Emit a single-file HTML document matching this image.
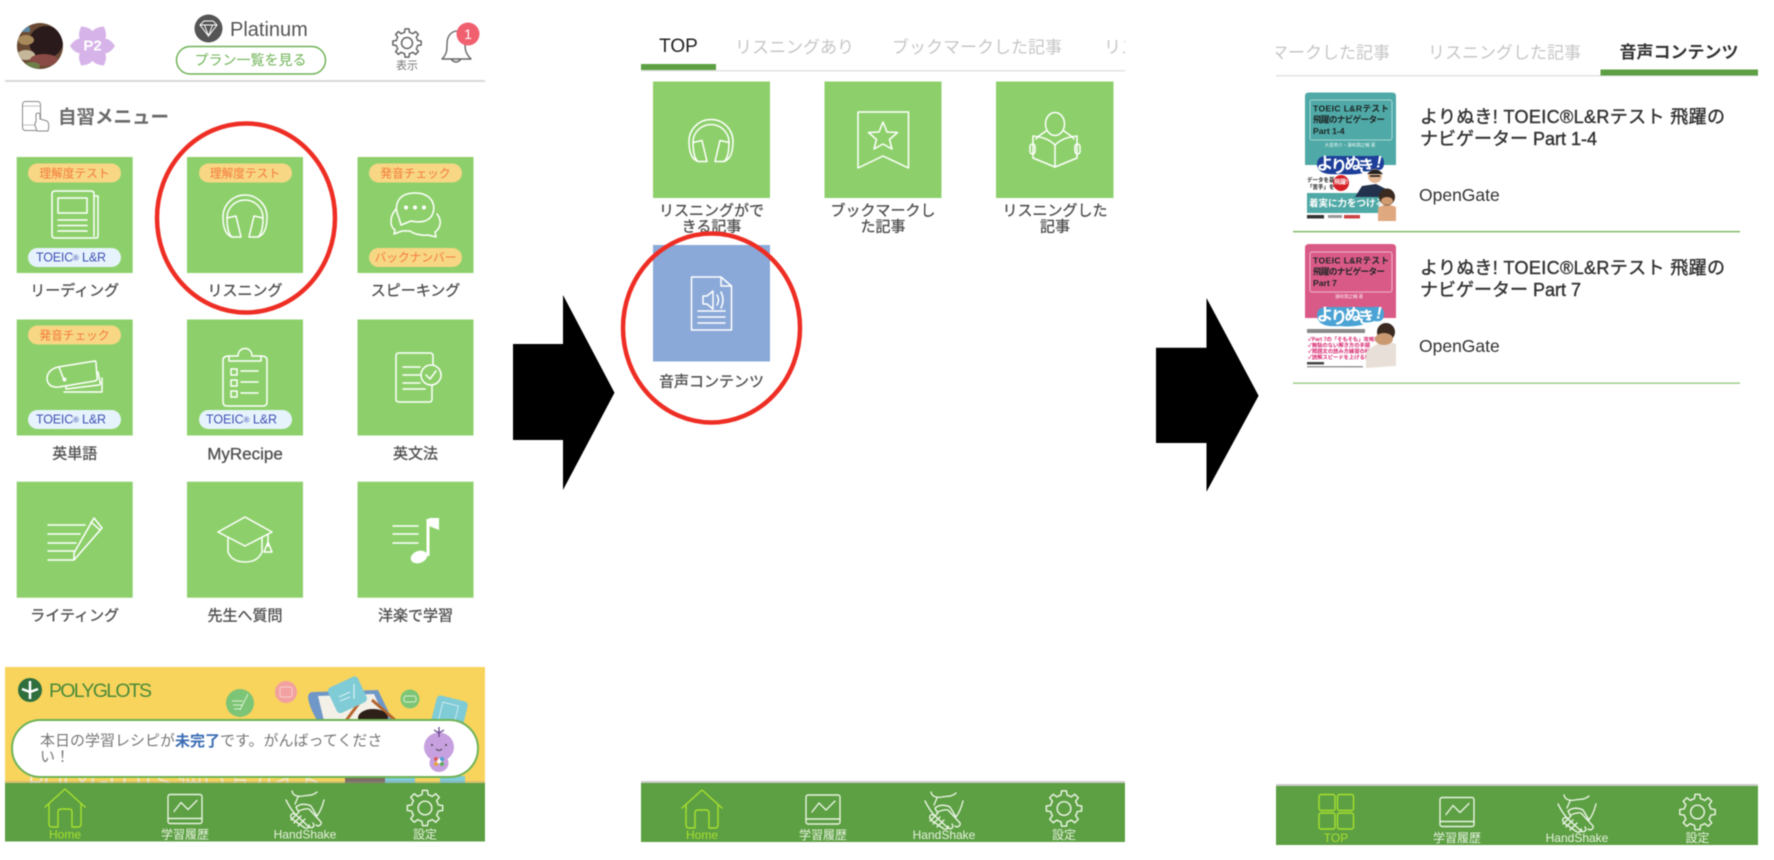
<!DOCTYPE html>
<html lang="ja"><head><meta charset="utf-8"><title>Diagram</title>
<style>
html,body{margin:0;padding:0;background:#fff;width:1774px;height:860px;overflow:hidden}
svg{display:block;filter:blur(.4px)}
text{font-family:"Liberation Sans","Noto Sans CJK JP",sans-serif;dominant-baseline:central}
.m{text-anchor:middle}
.lab{font-size:15px;fill:#4f4f4f;text-anchor:middle;stroke:#4f4f4f;stroke-width:.3px}
.o{font-size:11.7px;fill:#f5793a;text-anchor:middle}
.b{font-size:12.5px;fill:#4050b5}
.tb{font-size:12px;fill:#e6f2df;text-anchor:middle}
.on{fill:#a6e02e}
.g{font-size:17px;fill:#c6c6c6}
.t{fill:#8dd06b}
.i{fill:none;stroke:#fff;stroke-width:1.5;stroke-linejoin:round;stroke-linecap:round}
.ti{font-size:18px;fill:#333;stroke:#333;stroke-width:.4px}
.og{font-size:17.5px;fill:#333}
.r{fill:none;stroke:#ee2e24;stroke-width:4.5}
.bk{font-size:8.6px;font-weight:700;fill:#1c2424}
</style></head><body>
<svg width="1774" height="860" viewBox="0 0 1774 860" xmlns="http://www.w3.org/2000/svg">
<defs>
<clipPath id="c2"><rect x="641" y="30" width="484" height="45"/></clipPath>
<clipPath id="c3"><rect x="1276" y="30" width="482" height="50"/></clipPath>
<clipPath id="cb"><rect x="5" y="667" width="480" height="116"/></clipPath>
<clipPath id="av"><circle cx="40" cy="46" r="23"/></clipPath>
<clipPath id="bk1"><rect x="1305" y="92.500" width="91" height="128.500"/></clipPath>
<clipPath id="bk2"><rect x="1305" y="244" width="91" height="124"/></clipPath>
<g id="tooth"><path d="M-4.97 -12L-2.92 -12.67L-2.37 -16.83L2.37 -16.83L2.92 -12.67L4.97 -12"/></g>
<g id="gear">
<use href="#tooth"/><use href="#tooth" transform="rotate(45)"/><use href="#tooth" transform="rotate(90)"/><use href="#tooth" transform="rotate(135)"/><use href="#tooth" transform="rotate(180)"/><use href="#tooth" transform="rotate(225)"/><use href="#tooth" transform="rotate(270)"/><use href="#tooth" transform="rotate(315)"/>
<circle r="6.5"/></g>
<g id="phones"><path d="M10 45C4 43 1 36 1 25A22 22 0 0 1 45 25C45 36 42 43 36 45"/><path d="M5 26A18 18 0 0 1 41 26"/><path d="M5 26L14 24L19 45H10C7 43 5 36 5 26Z"/><path d="M41 26L32 24L27 45H36C39 43 41 36 41 26Z"/></g>
<g id="home"><path d="M-20 16L0 -2L20 16"/><path d="M-16 13V33Q-16 36 -13 36H-7V21Q-7 18 -4 18H4Q7 18 7 21V36H13Q16 36 16 33V13"/></g>
<g id="chart"><rect x="-17" y="0" width="34" height="29" rx="2"/><path d="M-17 24H17"/><path d="M-11 17L-4 8L3 15L12 6"/></g>
<g id="hands"><path d="M-19 -8C-16 -2 -13 3 -9 7L4 19C8 21 10 18 8 15M-9 7C-13 4 -16 7 -13 11L0 20C4 21 5 18 4 17"/><path d="M-14 12L-6 4M-11 15L-4 8M-7 18L0 11"/><path d="M19 -8C17 0 15 4 12 8L6 -2C2 -4 -4 -5 -9 -1L-7 3C-3 2 0 0 4 1L16 14C17 17 13 19 11 17"/><path d="M-13 -17C-12 -12 -7 -11 -2 -12C3 -13 8 -12 12 -16M-7 -11L-10 -4"/></g>
<path id="petal" d="M0 0C-10 -7 -10 -16 0 -22.500C10 -16 10 -7 0 0Z" fill="#d6b3e8"/>
</defs>
<rect width="1774" height="860" fill="#fff"/>

<!-- PANEL 1 -->
<circle cx="40" cy="46" r="23" fill="#6a4a34"/>
<g clip-path="url(#av)"><ellipse cx="46" cy="42" rx="17" ry="16" fill="#2a1a1c"/><ellipse cx="26" cy="40" rx="8" ry="5" fill="#a88a5a"/><ellipse cx="26" cy="55" rx="9" ry="5" fill="#c4b79a"/><ellipse cx="44" cy="60" rx="14" ry="6" fill="#8a4a45"/><ellipse cx="32" cy="66" rx="8" ry="4" fill="#6d7f48"/><rect x="21" y="27" width="9" height="5" fill="#5a86a0"/></g>
<g transform="translate(92.500 46)"><use href="#petal" transform="rotate(30)"/><use href="#petal" transform="rotate(90)"/><use href="#petal" transform="rotate(150)"/><use href="#petal" transform="rotate(210)"/><use href="#petal" transform="rotate(270)"/><use href="#petal" transform="rotate(330)"/></g>
<text x="92.500" y="46" class="m" font-size="15" font-weight="700" fill="#fff">P2</text>
<circle cx="208.500" cy="28.500" r="14" fill="#555"/>
<path d="M200 25L204 21H213L217 25L208.500 36ZM200 25H217M204.500 25L208.500 36L212.500 25" fill="none" stroke="#fff" stroke-width="1"/>
<text x="230" y="30" font-size="20" fill="#555">Platinum</text>
<rect x="176.500" y="46.500" width="149" height="27.500" rx="13.700" fill="#fff" stroke="#6fb356" stroke-width="1.500"/>
<text x="250.500" y="60" class="m" font-size="14" fill="#6fb356">プラン一覧を見る</text>
<g transform="translate(407 43) scale(.84)" fill="none" stroke="#666" stroke-width="1.800" stroke-linejoin="round"><use href="#gear"/></g>
<text x="407" y="66" class="m" font-size="11" fill="#777">表示</text>
<path d="M442 59C447 54 447 50 447 44C447 36 451 32 456 31C461 32 465 36 465 44C465 50 466 54 471 59ZM451 59Q456 65 461 59" fill="none" stroke="#666" stroke-width="1.400" stroke-linejoin="round"/>
<circle cx="468" cy="34" r="11.500" fill="#f0606f"/>
<text x="468" y="34" class="m" font-size="14" fill="#fff">1</text>
<rect x="5" y="80" width="480" height="2" fill="#d9d9d9"/>

<rect x="22.500" y="101.500" width="18" height="29" rx="3" fill="#fff" stroke="#888" stroke-width="1"/>
<path d="M23 106H40M23 125H40" stroke="#aaa" stroke-width=".8"/>
<path d="M37 131C35 126 34 123 36 122V114Q38 112 40 114V119L47 121Q50 124 48 131Z" fill="#fff" stroke="#888" stroke-width="1"/>
<text x="58" y="117" font-size="18.500" font-weight="700" fill="#6a6a6a">自習メニュー</text>

<!-- tiles -->
<g class="t">
<rect x="16.700" y="157" width="116" height="116"/><rect x="187" y="157" width="116" height="116"/><rect x="357.500" y="157" width="116" height="116"/>
<rect x="16.700" y="319.500" width="116" height="116"/><rect x="187" y="319.500" width="116" height="116"/><rect x="357.500" y="319.500" width="116" height="116"/>
<rect x="16.700" y="481.700" width="116" height="116"/><rect x="187" y="481.700" width="116" height="116"/><rect x="357.500" y="481.700" width="116" height="116"/>
</g>
<g fill="#f7d684">
<rect x="28" y="163.500" width="93" height="19" rx="9.500"/><rect x="199" y="163.500" width="93" height="19" rx="9.500"/><rect x="369" y="163.500" width="93" height="19" rx="9.500"/>
<rect x="369" y="248" width="93" height="19" rx="9.500"/><rect x="28" y="325.500" width="93" height="19" rx="9.500"/>
</g>
<g fill="#e6f3fc"><rect x="28" y="248" width="93" height="19" rx="9.500"/><rect x="28" y="410" width="93" height="19" rx="9.500"/><rect x="199" y="410" width="93" height="19" rx="9.500"/></g>
<text x="74.500" y="174" class="o">理解度テスト</text><text x="245" y="174" class="o">理解度テスト</text><text x="415.500" y="174" class="o">発音チェック</text>
<text x="415.500" y="258" class="o">バックナンバー</text><text x="74.500" y="336" class="o">発音チェック</text>
<text x="36" y="257.500" class="b" textLength="70">TOEIC<tspan font-size="8">®</tspan> L&amp;R</text><text x="36" y="419.500" class="b" textLength="70">TOEIC<tspan font-size="8">®</tspan> L&amp;R</text><text x="206" y="419.500" class="b" textLength="71">TOEIC<tspan font-size="8">®</tspan> L&amp;R</text>

<!-- tile icons p1 -->
<g class="i">
<path d="M94 196H98V236Q98 238 96 238H55Q52 238 52 235V194Q52 191 55 191H91Q94 191 94 194V236"/><rect x="58" y="198" width="29" height="15"/><path d="M58 220H87M58 225.500H87M58 231H87"/>
<use href="#phones" transform="translate(222 192)"/>
<path d="M399 218C393 205 398 193 415 193C430 193 436 203 433 213C430 222 420 223 411 221L401 225Z"/><circle cx="406" cy="207.500" r="1.300" fill="#fff"/><circle cx="415" cy="207.500" r="1.300" fill="#fff"/><circle cx="424" cy="207.500" r="1.300" fill="#fff"/>
<path d="M396 209C390 216 389 226 395 230L394 234L402 231H410C412 233 420 236 428 235L436 237L435 232C441 228 442 220 437 214"/>
<path d="M95 361L58 367Q47 370 47 379Q48 388 59 387L95 381Q98 380 97 377L96 363Q96 361 95 361ZM59 367L64 380"/><circle cx="64.500" cy="379.500" r="1.200" fill="#fff"/><path d="M66 387V389L99 385Q101 384 100 382L98 372M64 392H102V378"/>
<path d="M229 356H238C238 346 252 346 252 356H261Q267 356 267 360V402Q267 406 263 406H227Q223 406 223 402V360Q223 356 229 356ZM229 356V361H261V356"/><rect x="231" y="369" width="6" height="6"/><rect x="231" y="380" width="6" height="6"/><rect x="231" y="391" width="6" height="6"/><path d="M241 371H258M241 382H258M241 393H258"/>
<path d="M433 365V356Q433 353 430 353H399Q396 353 396 356V399Q396 402 399 402H429Q432 402 432 399V385"/><circle cx="431" cy="375" r="10"/><path d="M426 375L430 379L436 371M403 367H420M403 375H420M403 383H420M403 389H425"/>
<path d="M48 525H85M48 534H80M48 543H76M48 551H74M48 560H74L102 528L94 518L74 553V560"/><path d="M91 522L100 530"/>
<path d="M245 517L272 532L245 546L218 532ZM228 538V552Q232 562 245 562Q258 562 262 552V538"/><path d="M268 534V546M264 552L268 542L272 552Z"/>
<path d="M393 526H418M393 534H418M393 543H418"/>
</g>
<path d="M428 519V556" stroke="#fff" stroke-width="3"/><ellipse cx="419" cy="557" rx="8.500" ry="6" fill="#fff" transform="rotate(-20 419 557)"/><path d="M429 518H439V530L429 526Z" fill="#fff"/>

<text x="74.700" y="291" class="lab">リーディング</text><text x="245" y="291" class="lab">リスニング</text><text x="415.500" y="291" class="lab">スピーキング</text>
<text x="74.700" y="454" class="lab">英単語</text><text x="245" y="454" class="lab" style="font-size:17px">MyRecipe</text><text x="415.500" y="454" class="lab">英文法</text>
<text x="74.700" y="616" class="lab">ライティング</text><text x="245" y="616" class="lab">先生へ質問</text><text x="415.500" y="616" class="lab">洋楽で学習</text>

<!-- banner -->
<rect x="5" y="667" width="480" height="116" fill="#f8d45c"/>
<circle cx="30" cy="690" r="12" fill="#2f6f3e"/>
<path d="M30 681V699M22 689L30 692L38 689" stroke="#fff" stroke-width="2.500" fill="none"/>
<text x="49" y="691" font-size="19.500" fill="#4a8a38" textLength="103">POLYGLOTS</text>
<circle cx="240" cy="703" r="14" fill="#7cc576"/><path d="M232 701H243M233 705H243M234 709H241M248 694L240 710" stroke="#d8f0d0" stroke-width="1" fill="none"/>
<circle cx="286" cy="692" r="11" fill="#f2a0a0"/><rect x="280" y="687" width="12" height="10" rx="2" fill="none" stroke="#f8d0c8" stroke-width="1"/>
<circle cx="410" cy="699" r="9.500" fill="#7cc576"/><rect x="404" y="696" width="12" height="6" rx="2" fill="none" stroke="#d8f0d0" stroke-width="1"/>
<rect x="433" y="698" width="32" height="34" rx="4" fill="#7fcbd6" transform="rotate(14 449 715)"/>
<rect x="440" y="704" width="16" height="18" fill="none" stroke="#cdeaf0" stroke-width="1" transform="rotate(14 449 715)"/>
<path d="M313 692L378 690L395 725L320 725Q310 710 308 698Q308 692 313 692Z" fill="#6f97c8"/>
<path d="M318 696L374 694L388 725H325Z" fill="#f3f0e8"/>
<path d="M365 695L345 722M372 700L395 720" stroke="#b5672f" stroke-width="3" fill="none"/>
<ellipse cx="373" cy="718" rx="15" ry="9" fill="#2d2018"/>
<rect x="331" y="681" width="33" height="28" rx="4" fill="#7fcbd6" transform="rotate(-25 347 695)"/>
<path d="M339 697L350 692M340 701L350 697M354 684V699" stroke="#d8f0f4" stroke-width="1.200" fill="none"/>
<g clip-path="url(#cb)"><text x="28" y="782" font-size="24" fill="#f7e9c0">POLYGLOTS 使い方ガイド</text>
<rect x="345" y="776" width="70" height="8" fill="#7d6b60"/><rect x="385" y="776" width="30" height="8" fill="#7fcbd6"/><rect x="440" y="776" width="25" height="8" fill="#7fcbd6"/></g>
<rect x="12" y="720" width="466" height="57" rx="28.500" fill="#fff" stroke="#6fb356" stroke-width="2"/>
<text x="40" y="741" font-size="15" fill="#777">本日の学習レシピが<tspan fill="#3b6db5" font-weight="700">未完了</tspan>です。がんばってくださ</text>
<text x="40" y="757" font-size="15" fill="#777">い！</text>
<ellipse cx="439" cy="747" rx="15" ry="14.500" fill="#c7a0e0"/><ellipse cx="439" cy="763" rx="9.500" ry="9" fill="#c7a0e0"/>
<path d="M439 727V737M434 730L439 733L444 730" stroke="#6a4a90" stroke-width="1.300" fill="none"/>
<circle cx="439" cy="761" r="2.500" fill="#fff"/><circle cx="436" cy="759" r="2" fill="#e05a5a"/><circle cx="442" cy="759" r="2" fill="#4aa3d4"/><circle cx="436" cy="764" r="2" fill="#e8a33a"/><circle cx="442" cy="764" r="2" fill="#5ab05a"/>
<circle cx="432" cy="745" r="1" fill="#444"/><circle cx="446" cy="745" r="1" fill="#444"/><path d="M436 749Q439 752 442 749" stroke="#444" fill="none"/>

<!-- tab bars -->
<rect x="5" y="781" width="480" height="2" fill="#999" opacity=".35"/>
<rect x="5" y="783" width="480" height="58.500" fill="#5d9f43"/>
<rect x="641" y="781" width="484" height="2" fill="#999" opacity=".5"/>
<rect x="641" y="783" width="484" height="59" fill="#5d9f43"/>
<rect x="1276" y="784" width="482" height="2" fill="#999" opacity=".5"/>
<rect x="1276" y="786" width="482" height="59" fill="#5d9f43"/>
<g fill="none" stroke="#e8f3e2" stroke-width="1.400" stroke-linejoin="round" stroke-linecap="round">
<use href="#home" transform="translate(65 791)" stroke="#a6e02e"/>
<use href="#chart" transform="translate(185 794.500)"/>
<use href="#hands" transform="translate(305 808)"/>
<use href="#gear" transform="translate(425 808) scale(1.050)"/>
<use href="#home" transform="translate(702 792)" stroke="#a6e02e"/>
<use href="#chart" transform="translate(823 795)"/>
<use href="#hands" transform="translate(944 809)"/>
<use href="#gear" transform="translate(1064 808.500) scale(1.050)"/>
<g stroke="#a6e02e"><rect x="1319" y="794.500" width="16" height="16" rx="2"/><rect x="1337.500" y="794.500" width="16" height="16" rx="2"/><rect x="1319" y="813" width="16" height="16" rx="2"/><rect x="1337.500" y="813" width="16" height="16" rx="2"/></g>
<use href="#chart" transform="translate(1457 797.500)"/>
<use href="#hands" transform="translate(1577 812)"/>
<use href="#gear" transform="translate(1697.500 812) scale(1.050)"/>
</g>
<text x="65" y="834.500" class="tb on">Home</text><text x="185" y="834.500" class="tb">学習履歴</text><text x="305" y="834.500" class="tb">HandShake</text><text x="425" y="834.500" class="tb">設定</text>
<text x="702" y="835" class="tb on">Home</text><text x="823" y="835" class="tb">学習履歴</text><text x="944" y="835" class="tb">HandShake</text><text x="1064" y="835" class="tb">設定</text>
<text x="1336" y="838" class="tb on">TOP</text><text x="1457" y="838" class="tb">学習履歴</text><text x="1577" y="838" class="tb">HandShake</text><text x="1697.500" y="838" class="tb">設定</text>

<ellipse cx="246" cy="218" rx="89" ry="94.500" class="r"/>

<!-- arrows -->
<path d="M513 344H563V295L614.500 392.700L563 490V440H513Z" fill="#000"/>
<path d="M1156 347.700H1206.500V298L1258.600 395.700L1206.500 491.700V443H1156Z" fill="#000"/>

<!-- PANEL 2 -->
<g clip-path="url(#c2)">
<text x="678.500" y="46.500" class="m" font-size="19" fill="#222">TOP</text>
<text x="735" y="47.500" class="g">リスニングあり</text>
<text x="892" y="47.500" class="g">ブックマークした記事</text>
<text x="1104" y="47.500" class="g">リスニングした記事</text>
</g>
<rect x="641" y="70" width="484" height="1.500" fill="#e2e2e2"/>
<rect x="641" y="64" width="75" height="6" fill="#5d9f43"/>
<rect x="653" y="81.500" width="117" height="116.500" class="t"/><rect x="824.500" y="81.500" width="117" height="116.500" class="t"/><rect x="996" y="81.500" width="117.500" height="116.500" class="t"/>
<rect x="653" y="245" width="117" height="116.500" fill="#8aa9d8"/>
<g class="i">
<use href="#phones" transform="translate(688 116.500)"/>
<path d="M858 112H908.500V168L883 156L858 168Z"/><path d="M883 122L887 132L897.500 132.500L889.500 139.500L892 149L883 144L874 149L876.500 139.500L868.500 132.500L879 132Z"/>
<ellipse cx="1055" cy="124" rx="9.500" ry="11.500"/><path d="M1046 131C1042 134 1038 136 1036 139M1064 131C1068 134 1072 136 1074 139"/><path d="M1055 167V145C1048 138 1040 137 1033 136V158ZM1055 167V145C1062 138 1070 137 1077 136V158ZM1033 158L1055 167L1077 158"/><rect x="1030" y="144" width="5" height="10" rx="2.500"/><rect x="1075" y="144" width="5" height="10" rx="2.500"/>
<path d="M691.500 277V330H731.500V286L721 277ZM721 277V286H731.500"/><path d="M703 296V304H707L713 309V291L707 296ZM717 295Q720 300 717 305M721 292Q725 300 721 308M698 311H725M698 317H725M698 323H725"/>
</g>
<text x="711.500" y="211" class="lab">リスニングがで</text><text x="711.500" y="227" class="lab">きる記事</text>
<text x="883" y="211" class="lab">ブックマークし</text><text x="883" y="227" class="lab">た記事</text>
<text x="1055" y="211" class="lab">リスニングした</text><text x="1055" y="227" class="lab">記事</text>
<text x="711.500" y="382" class="lab">音声コンテンツ</text>
<ellipse cx="711.500" cy="328" rx="88.500" ry="94.500" class="r"/>

<!-- PANEL 3 -->
<g clip-path="url(#c3)">
<text x="1390" y="53" class="g" text-anchor="end">ブックマークした記事</text>
<text x="1428" y="53" class="g">リスニングした記事</text>
</g>
<text x="1619.500" y="52.500" font-size="17" font-weight="700" fill="#333">音声コンテンツ</text>
<rect x="1276" y="75" width="482" height="1.500" fill="#e2e2e2"/>
<rect x="1600.500" y="69.500" width="157.500" height="6" fill="#5d9f43"/>

<!-- book 1 -->
<g clip-path="url(#bk1)">
<rect x="1305" y="92.500" width="91" height="128.500" fill="#fff"/>
<path d="M1305 165V96Q1305 92.500 1309 92.500H1392Q1396 92.500 1396 96V165Z" fill="#4fa9a6"/>
<rect x="1310" y="100" width="82" height="40" rx="2" fill="none" stroke="#a8d8d6" stroke-width="1"/>
<g class="bk"><text x="1313" y="108.500" textLength="76">TOEIC L&amp;Rテスト</text><text x="1313" y="119.500" textLength="72">飛躍のナビゲーター</text><text x="1313" y="131">Part 1-4</text></g>
<text x="1350" y="145" class="m" font-size="4.500" fill="#e6f5f4">大里秀介・濱﨑潤之輔 著</text>
<path d="M1317 165Q1317 156 1326 156H1374Q1384 154 1384 163Q1384 172 1374 170Q1358 176 1340 174Q1318 176 1317 165Z" fill="#1d3f9a"/>
<g font-size="17" font-weight="700" fill="#fff"><text x="1325" y="164" class="m">よ</text><text x="1339" y="167" class="m">り</text><text x="1353" y="164" class="m">ぬ</text><text x="1366" y="167" class="m">き</text><text x="1379" y="162" class="m" font-style="italic">!</text></g>
<text x="1307" y="181" font-size="5.500" font-weight="700" fill="#222">データを基に</text><text x="1307" y="188" font-size="5.500" font-weight="700" fill="#222">「苦手」を</text>
<rect x="1307" y="193" width="73" height="20" fill="#4fa9a6"/>
<circle cx="1341" cy="183" r="8" fill="#d61f26"/><text x="1341" y="183" class="m" font-size="6" font-weight="700" fill="#fff">飛躍!</text>
<path d="M1355 197L1362 186L1376 184L1388 190V197Z" fill="#22324d"/><circle cx="1375" cy="176" r="7" fill="#e5b896"/><path d="M1367 174Q1375 165 1383 174Z" fill="#222"/>
<path d="M1370 176H1380" stroke="#111" stroke-width="1.500"/>
<text x="1309" y="204" font-size="9.500" font-weight="700" fill="#fff">着実に力をつける!!</text>
<path d="M1378 221V208Q1385 202 1396 207V221Z" fill="#e0a87e"/><ellipse cx="1387" cy="197" rx="8" ry="8.500" fill="#3a2a20"/><ellipse cx="1387" cy="201" rx="6" ry="4" fill="#d09a70"/>
<rect x="1307" y="215" width="17" height="3.500" fill="#333"/><rect x="1328" y="215" width="14" height="3" fill="#999"/><rect x="1344" y="215" width="16" height="3.500" fill="#c44"/>
</g>

<!-- book 2 -->
<g clip-path="url(#bk2)">
<rect x="1305" y="244" width="91" height="124" fill="#fff"/>
<path d="M1305 318V248Q1305 244 1309 244H1392Q1396 244 1396 248V318Z" fill="#d95a87"/>
<rect x="1310" y="252" width="82" height="40" rx="2" fill="none" stroke="#f1b8cd" stroke-width="1"/>
<g class="bk"><text x="1313" y="260.500" textLength="76">TOEIC L&amp;Rテスト</text><text x="1313" y="271.500" textLength="72">飛躍のナビゲーター</text><text x="1313" y="283">Part 7</text></g>
<text x="1349" y="296.500" class="m" font-size="4.500" fill="#fbe5ee">濱﨑潤之輔 著</text>
<path d="M1317 316Q1317 307 1326 307H1374Q1384 305 1384 314Q1384 323 1374 321Q1358 328 1340 326Q1318 328 1317 316Z" fill="#4aa3d4"/>
<g font-size="17" font-weight="700" fill="#fff"><text x="1325" y="315" class="m">よ</text><text x="1339" y="318" class="m">り</text><text x="1353" y="315" class="m">ぬ</text><text x="1366" y="318" class="m">き</text><text x="1379" y="313" class="m" font-style="italic">!</text></g>
<rect x="1307" y="329" width="58" height="4" fill="#888"/>
<g font-size="5.300" font-weight="700" fill="#d6246e"><text x="1308" y="340">✓Part 7の「そもそも」攻略!</text><text x="1308" y="346">✓無駄のない解き方の手順</text><text x="1308" y="352">✓問題文の読み方練習の秘訣!</text><text x="1308" y="358">✓読解スピードを上げる!</text></g>
<path d="M1366 368V352Q1380 338 1396 344V366Z" fill="#e8e0d8"/><ellipse cx="1386" cy="332" rx="9" ry="9" fill="#3a2a20"/><ellipse cx="1384" cy="339" rx="9" ry="6" fill="#c99a72"/>
<rect x="1307" y="362" width="17" height="2.500" fill="#444"/><rect x="1307" y="366" width="56" height="1.500" fill="#999"/>
</g>

<g class="ti">
<text x="1420" y="117" textLength="305">よりぬき! TOEIC®L&amp;Rテスト 飛躍の</text>
<text x="1420" y="139">ナビゲーター Part 1-4</text>
<text x="1420" y="268" textLength="305">よりぬき! TOEIC®L&amp;Rテスト 飛躍の</text>
<text x="1420" y="290">ナビゲーター Part 7</text>
</g>
<text x="1419" y="195" class="og">OpenGate</text>
<text x="1419" y="346" class="og">OpenGate</text>
<rect x="1293" y="231" width="447" height="1.300" fill="#6fb356"/>
<rect x="1293" y="382.500" width="447" height="1.300" fill="#8fc97a"/>
</svg>
</body></html>
